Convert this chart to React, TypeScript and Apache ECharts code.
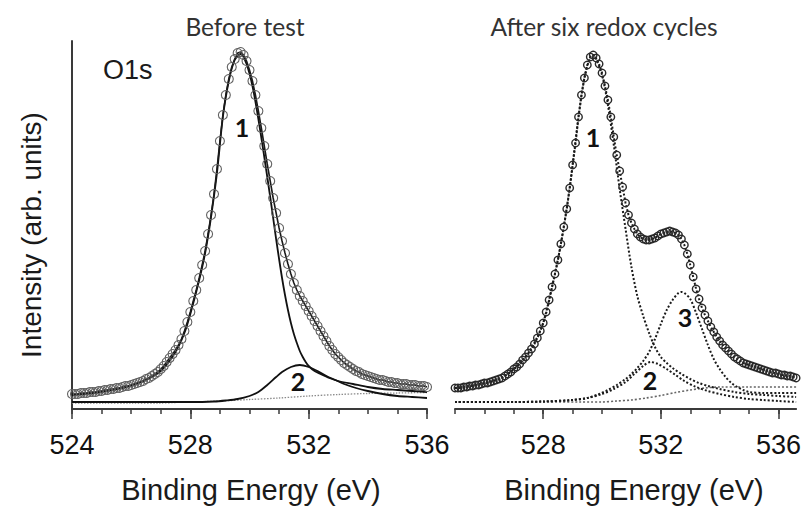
import React, { useEffect, useRef } from "react";
import * as echarts from "echarts";

// ---------- Left panel: "Before test" ----------
const leftStart = 524.0;
const leftStep = 0.1;
// measured intensity (arb. units), 524.0 ... 536.0 eV, 0.1 eV step
const leftData = [
  15, 15, 15, 16, 16, 16, 17, 17, 17, 18,
  18, 19, 19, 20, 20, 21, 21, 22, 23, 23,
  24, 25, 26, 27, 28, 30, 31, 33, 35, 37,
  40, 43, 47, 51, 55, 59, 64, 70, 78, 87,
  97, 108, 119, 131, 144, 158, 175, 194, 215, 240,
  268, 294, 314, 330, 342, 350, 356, 357, 354, 348,
  339, 328, 314, 298, 281, 263, 245, 228, 211, 196,
  181, 168, 156, 145, 135, 126, 119, 113, 108, 103,
  98, 93, 88, 83, 78, 73, 68, 63, 59, 55,
  52, 49, 46, 44, 42, 40, 38, 37, 35, 34,
  33, 32, 31, 30, 29, 29, 28, 27, 27, 26,
  26, 25, 25, 25, 24, 24, 24, 23, 23, 23,
  22,
];
const leftComp1 = [
  [524, 14], [525, 17], [526, 23], [526.5, 29], [527, 38], [527.5, 57], [527.8, 76],
  [528, 95], [528.3, 129], [528.5, 156], [528.7, 192], [528.9, 236], [529.1, 292],
  [529.3, 328], [529.5, 349], [529.7, 355], [529.9, 345], [530.1, 323], [530.3, 290],
  [530.5, 252], [530.7, 212], [530.8, 191], [530.9, 170], [531.0, 150], [531.1, 131],
  [531.2, 114], [531.3, 99], [531.4, 86], [531.5, 75], [531.6, 66], [531.7, 58],
  [531.8, 52], [531.9, 47], [532.0, 43], [532.2, 38], [532.4, 35], [532.7, 31],
  [533.0, 28], [533.5, 25], [534, 22], [534.5, 20], [535, 19], [535.5, 18], [536, 17],
];
const leftComp2 = [
  [524, 7], [525, 7], [526, 7], [527, 7], [528, 7], [528.8, 7.5], [529.2, 8.5],
  [529.6, 10], [530.0, 13], [530.3, 17], [530.6, 24], [530.9, 32], [531.1, 37],
  [531.4, 42], [531.7, 44], [532.0, 42], [532.3, 38], [532.6, 33], [532.9, 29],
  [533.2, 25], [533.6, 21], [534.0, 18], [534.5, 15], [535.0, 13], [535.5, 12], [536, 11],
];
const leftBg = [
  [524, 6], [525, 6], [526, 6], [527, 6], [527.5, 6.5], [528, 7], [529, 8], [530, 9.5],
  [531, 11], [532, 13], [533, 14.5], [534, 15.5], [535, 16], [536, 16.5],
];

// ---------- Right panel: "After six redox cycles" ----------
const rightStart = 525.0;
const rightStep = 0.1;
// measured intensity, 525.0 ... 536.6 eV, 0.1 eV step
const rightData = [
  21, 21, 21, 22, 22, 23, 23, 24, 24, 25,
  26, 26, 27, 28, 29, 30, 31, 33, 35, 37,
  40, 42, 45, 49, 52, 56, 60, 65, 71, 78,
  86, 97, 109, 122, 135, 149, 165, 182, 200, 221,
  244, 266, 292, 314, 331, 344, 352, 354, 351, 345,
  336, 323, 309, 292, 272, 254, 238, 222, 206, 194,
  186, 180, 175, 172, 170, 169, 169, 170, 171, 173,
  175, 176, 177, 178, 177, 176, 174, 170, 164, 155,
  144, 132, 120, 110, 101, 94, 88, 82, 77, 72,
  68, 64, 61, 58, 55, 52, 50, 48, 46, 45,
  44, 43, 42, 41, 40, 39, 38, 37, 36, 36,
  35, 34, 34, 33, 33, 32, 31,
];
const rightComp1 = [
  [525, 21], [526, 26], [526.5, 30], [527, 40], [527.5, 56], [528, 86], [528.3, 122],
  [528.6, 165], [528.9, 221], [529.2, 292], [529.4, 331], [529.6, 352], [529.7, 354],
  [529.8, 350], [530.0, 334], [530.2, 304], [530.4, 264], [530.6, 220], [530.8, 180],
  [531.0, 142], [531.2, 113], [531.4, 93], [531.6, 76], [531.8, 62], [532.0, 52],
  [532.2, 46], [532.4, 41], [532.7, 35], [533.0, 30], [533.3, 26], [533.6, 23],
  [534.0, 20], [534.5, 17], [535.0, 15], [535.5, 14], [536.0, 13], [536.6, 12],
];
const rightComp2 = [
  [525, 7], [527, 7], [528, 7.5], [529, 9], [529.5, 11], [530.0, 15], [530.4, 20],
  [530.8, 27], [531.1, 35], [531.4, 43], [531.65, 47], [531.9, 45], [532.2, 40],
  [532.5, 34], [532.8, 28], [533.2, 22], [533.6, 18], [534.0, 15], [534.5, 12],
  [535.0, 10], [535.5, 9], [536.0, 8], [536.6, 7],
];
const rightComp3 = [
  [525, 7], [527, 7], [528, 7.5], [529, 9], [529.5, 11], [529.9, 15], [530.2, 19],
  [530.5, 24], [530.8, 30], [531.0, 35], [531.2, 41], [531.4, 48], [531.6, 57],
  [531.8, 70], [532.0, 85], [532.2, 99], [532.4, 109], [532.6, 116], [532.7, 117],
  [532.8, 116], [533.0, 110], [533.2, 96], [533.4, 80], [533.6, 64], [533.8, 50],
  [534.0, 40], [534.2, 32], [534.4, 26], [534.6, 22], [534.8, 19], [535.0, 17],
  [535.5, 16], [536.0, 16], [536.6, 16],
];
const rightBg = [
  [525, 7], [530, 7], [530.5, 8], [531, 9], [531.5, 11], [532, 13.5], [532.5, 16.5],
  [533, 19], [533.5, 21], [534, 22], [535, 22], [536.6, 22],
];

// ---------- Axes ----------
const leftRange = [524, 536];
const rightRange = [525, 536.6];
const leftMinorTicks = [524, 525, 526, 527, 528, 529, 530, 531, 532, 533, 534, 535, 536];
const leftMajorTicks = [524, 528, 532, 536];
const rightMinorTicks = [525, 526, 527, 528, 529, 530, 531, 532, 533, 534, 535, 536];
const rightMajorTicks = [528, 532, 536];
const yRange = [0, 368];

const titleLeft = "Before test";
const titleRight = "After six redox cycles";
const xName = "Binding Energy (eV)";
const yName = "Intensity (arb. units)";
const coreLevel = "O1s";

const ARIAL = "'Liberation Sans', Arial, sans-serif";
const CALIBRI = "Lato, 'Open Sans', sans-serif";

function toPairs(arr: number[], start: number, step: number) {
  return arr.map((v, i) => [Math.round((start + i * step) * 10) / 10, v]);
}

export default function App() {
  const ref = useRef<HTMLDivElement>(null);
  useEffect(() => {
    if (!ref.current) return;
    const chart = echarts.init(ref.current, undefined, { renderer: "svg" });
    const axisColor = "#3a3a3a";
    const mkX = (gridIndex: number, range: number[], ticks: number[], labels: number[] | null, len: number) => ({
      type: "value",
      gridIndex,
      min: range[0],
      max: range[1],
      position: "bottom",
      axisLine: { show: labels !== null, onZero: false, lineStyle: { color: axisColor, width: 2 } },
      axisTick: { show: true, inside: false, length: len, customValues: ticks, lineStyle: { color: axisColor, width: 1.5 } },
      axisLabel: labels
        ? { show: true, customValues: labels, fontSize: 27, fontFamily: ARIAL, color: "#111", margin: 22 }
        : { show: false },
      splitLine: { show: false },
    });
    const dotted = [2, 2];
    const option: any = {
      animation: false,
      backgroundColor: "#ffffff",
      grid: [
        { left: 72, top: 41, width: 355, height: 368 },
        { left: 455, top: 41, width: 343, height: 368 },
      ],
      xAxis: [
        mkX(0, leftRange, leftMinorTicks, leftMajorTicks, 5),
        mkX(0, leftRange, leftMajorTicks, null, 10),
        mkX(1, rightRange, rightMinorTicks, rightMajorTicks, 5),
        mkX(1, rightRange, rightMajorTicks, null, 10),
      ],
      yAxis: [
        {
          type: "value", gridIndex: 0, min: yRange[0], max: yRange[1],
          axisLine: { show: true, lineStyle: { color: axisColor, width: 2 } },
          axisTick: { show: false }, axisLabel: { show: false }, splitLine: { show: false },
        },
        {
          type: "value", gridIndex: 1, min: yRange[0], max: yRange[1], show: false,
          splitLine: { show: false },
        },
      ],
      series: [
        {
          type: "line", xAxisIndex: 0, yAxisIndex: 0, data: leftBg, showSymbol: false,
          smooth: 0.3,
          lineStyle: { color: "#8a8a8a", width: 1.3, type: [1.5, 1.5] },
        },
        {
          type: "line", xAxisIndex: 0, yAxisIndex: 0, data: leftComp2, showSymbol: false,
          smooth: 0.3,
          lineStyle: { color: "#111", width: 1.8 },
        },
        {
          type: "line", xAxisIndex: 0, yAxisIndex: 0, data: leftComp1, showSymbol: false,
          smooth: 0.3,
          lineStyle: { color: "#111", width: 1.8 },
        },
        {
          type: "line", xAxisIndex: 0, yAxisIndex: 0, data: toPairs(leftData, leftStart, leftStep),
          symbol: "circle", symbolSize: 9, showSymbol: true,
          lineStyle: { color: "#1a1a1a", width: 1.6 },
          itemStyle: { color: "rgba(0,0,0,0)", borderColor: "#606060", borderWidth: 1.1 },
        },
        {
          type: "line", xAxisIndex: 2, yAxisIndex: 1, data: rightBg, showSymbol: false,
          smooth: 0.3,
          lineStyle: { color: "#666", width: 1.6, type: dotted },
        },
        {
          type: "line", xAxisIndex: 2, yAxisIndex: 1, data: rightComp2, showSymbol: false,
          smooth: 0.3,
          lineStyle: { color: "#1a1a1a", width: 2, type: dotted },
        },
        {
          type: "line", xAxisIndex: 2, yAxisIndex: 1, data: rightComp3, showSymbol: false,
          smooth: 0.3,
          lineStyle: { color: "#1a1a1a", width: 2, type: dotted },
        },
        {
          type: "line", xAxisIndex: 2, yAxisIndex: 1, data: rightComp1, showSymbol: false,
          smooth: 0.3,
          lineStyle: { color: "#1a1a1a", width: 2, type: dotted },
        },
        {
          type: "line", xAxisIndex: 2, yAxisIndex: 1, data: toPairs(rightData, rightStart, rightStep),
          symbol: "circle", symbolSize: 7.5, showSymbol: true,
          lineStyle: { color: "#1a1a1a", width: 2, type: dotted },
          itemStyle: { color: "rgba(0,0,0,0)", borderColor: "#2a2a2a", borderWidth: 1.4 },
        },
      ],
      graphic: [
        { type: "text", x: 245, y: 26, style: { text: titleLeft, font: `24.5px ${CALIBRI}`, fill: "#333", textAlign: "center", textVerticalAlign: "middle" } },
        { type: "text", x: 604, y: 26, style: { text: titleRight, font: `24.5px ${CALIBRI}`, fill: "#333", textAlign: "center", textVerticalAlign: "middle" } },
        { type: "text", x: 103, y: 70, style: { text: coreLevel, font: `27px ${ARIAL}`, fill: "#1a1a1a", textAlign: "left", textVerticalAlign: "middle" } },
        { type: "text", x: 31, y: 235, rotation: Math.PI / 2, style: { text: yName, font: `28px ${ARIAL}`, fill: "#1a1a1a", textAlign: "center", textVerticalAlign: "middle" } },
        { type: "text", x: 251, y: 490, style: { text: xName, font: `29px ${ARIAL}`, fill: "#1a1a1a", textAlign: "center", textVerticalAlign: "middle" } },
        { type: "text", x: 634, y: 490, style: { text: xName, font: `29px ${ARIAL}`, fill: "#1a1a1a", textAlign: "center", textVerticalAlign: "middle" } },
        { type: "text", x: 242, y: 127, style: { text: "1", font: `bold 25px ${CALIBRI}`, fill: "#111", textAlign: "center", textVerticalAlign: "middle" } },
        { type: "text", x: 298, y: 381, style: { text: "2", font: `bold 25px ${CALIBRI}`, fill: "#111", textAlign: "center", textVerticalAlign: "middle" } },
        { type: "text", x: 593, y: 137, style: { text: "1", font: `bold 25px ${CALIBRI}`, fill: "#111", textAlign: "center", textVerticalAlign: "middle" } },
        { type: "text", x: 650, y: 380, style: { text: "2", font: `bold 25px ${CALIBRI}`, fill: "#111", textAlign: "center", textVerticalAlign: "middle" } },
        { type: "text", x: 685, y: 317, style: { text: "3", font: `bold 25px ${CALIBRI}`, fill: "#111", textAlign: "center", textVerticalAlign: "middle" } },
      ],
    };
    chart.setOption(option);
    return () => chart.dispose();
  }, []);
  return (
    <div
      ref={ref}
      style={{ position: "fixed", left: 0, top: 0, width: 804, height: 509, background: "#fff" }}
    />
  );
}
